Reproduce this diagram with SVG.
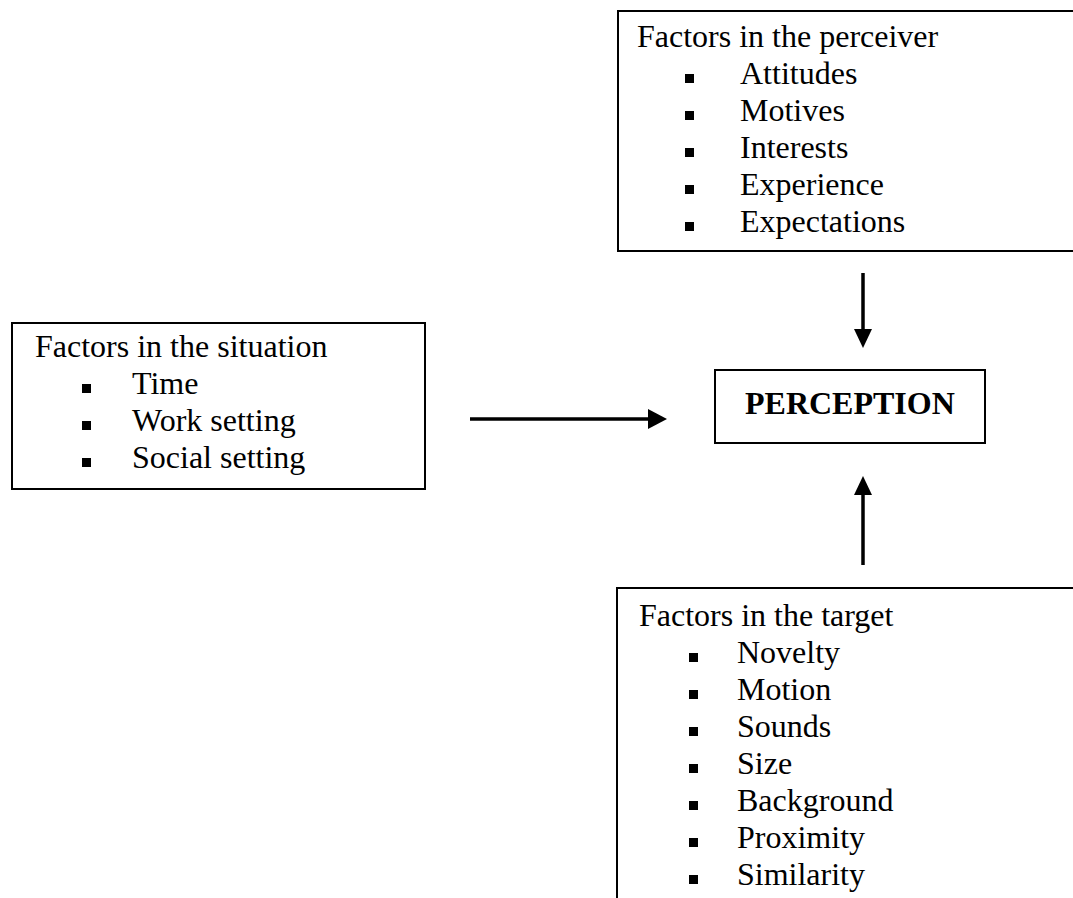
<svg xmlns="http://www.w3.org/2000/svg" width="1073" height="898" viewBox="0 0 1073 898">
  <style>
    .box { fill: #ffffff; stroke: #000000; stroke-width: 2; }
    .t { font-family: "Liberation Serif", "Times New Roman", serif; font-size: 32px; fill: #000000; }
    .b { font-weight: bold; }
    .dot { fill: #000000; }
    .conn { stroke: #000000; stroke-width: 3.5; fill: none; }
    .head { fill: #000000; }
  </style>
  <rect width="1073" height="898" fill="#ffffff"/>

  <!-- perceiver factors -->
  <g id="perceiver">
    <rect class="box" x="618" y="11" width="470" height="240"/>
    <text class="t" x="637" y="47">Factors in the perceiver</text>
    <rect class="dot" x="685" y="74" width="9" height="9"/>
    <text class="t" x="740" y="84">Attitudes</text>
    <rect class="dot" x="685" y="111" width="9" height="9"/>
    <text class="t" x="740" y="121">Motives</text>
    <rect class="dot" x="685" y="148" width="9" height="9"/>
    <text class="t" x="740" y="158">Interests</text>
    <rect class="dot" x="685" y="185" width="9" height="9"/>
    <text class="t" x="740" y="195">Experience</text>
    <rect class="dot" x="685" y="222" width="9" height="9"/>
    <text class="t" x="740" y="232">Expectations</text>
  </g>

  <!-- situation factors -->
  <g id="situation">
    <rect class="box" x="12" y="323" width="413" height="166"/>
    <text class="t" x="35" y="357">Factors in the situation</text>
    <rect class="dot" x="82" y="384" width="9" height="9"/>
    <text class="t" x="132" y="394">Time</text>
    <rect class="dot" x="82" y="421" width="9" height="9"/>
    <text class="t" x="132" y="431">Work setting</text>
    <rect class="dot" x="82" y="458" width="9" height="9"/>
    <text class="t" x="132" y="468">Social setting</text>
  </g>

  <!-- central node -->
  <g id="perception">
    <rect class="box" x="715" y="370" width="270" height="73"/>
    <text class="t b" x="745" y="414">PERCEPTION</text>
  </g>

  <!-- target factors -->
  <g id="target">
    <rect class="box" x="617" y="588" width="470" height="320"/>
    <text class="t" x="639" y="626">Factors in the target</text>
    <rect class="dot" x="689" y="653" width="9" height="9"/>
    <text class="t" x="737" y="663">Novelty</text>
    <rect class="dot" x="689" y="690" width="9" height="9"/>
    <text class="t" x="737" y="700">Motion</text>
    <rect class="dot" x="689" y="727" width="9" height="9"/>
    <text class="t" x="737" y="737">Sounds</text>
    <rect class="dot" x="689" y="764" width="9" height="9"/>
    <text class="t" x="737" y="774">Size</text>
    <rect class="dot" x="689" y="801" width="9" height="9"/>
    <text class="t" x="737" y="811">Background</text>
    <rect class="dot" x="689" y="838" width="9" height="9"/>
    <text class="t" x="737" y="848">Proximity</text>
    <rect class="dot" x="689" y="875" width="9" height="9"/>
    <text class="t" x="737" y="885">Similarity</text>
  </g>

  <!-- connectors: shafts plus solid triangular heads -->
  <g id="connectors">
    <line class="conn" x1="470" y1="419" x2="650" y2="419"/>
    <path class="head" d="M648,409 L667,419 L648,429 Z"/>
    <line class="conn" x1="863" y1="273" x2="863" y2="332"/>
    <path class="head" d="M854,329 L863,348 L872,329 Z"/>
    <line class="conn" x1="863" y1="565" x2="863" y2="492"/>
    <path class="head" d="M854,495 L863,476 L872,495 Z"/>
  </g>
</svg>
